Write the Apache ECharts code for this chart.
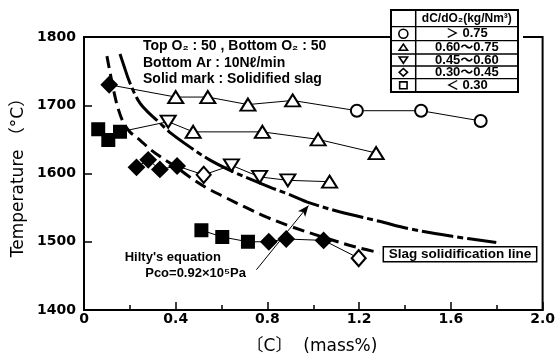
<!DOCTYPE html>
<html>
<head>
<meta charset="utf-8">
<script src="https://cdn.jsdelivr.net/npm/echarts@6/dist/echarts.min.js"></script>
<style>
  html, body { margin: 0; padding: 0; background: #fff; }
  #chart { width: 558px; height: 360px; }
</style>
</head>
<body>
<div id="chart"></div>
<script>
// Heats: carbon content [C] (mass%) vs. bath temperature (°C), in blowing order.
// Marks: ○ △ ▽ ◇ □ = dC/dO2 class, filled marks = solidified slag.
const heatA_C    = [0.11, 0.40, 0.54, 0.715, 0.91, 1.19, 1.47, 1.73];
const heatA_T    = [1730, 1712, 1712, 1701, 1707, 1692, 1692, 1677];
const heatA_mark = ['◆', '△', '△', '△', '△', '○', '○', '○'];

const heatB_C    = [0.062, 0.106, 0.157, 0.367, 0.476, 0.778, 1.021, 1.274];
const heatB_T    = [1665, 1649, 1661, 1676, 1661, 1661, 1650, 1630];
const heatB_mark = ['■', '■', '■', '▽', '△', '△', '△', '△'];

const heatC_C    = [0.229, 0.280, 0.331, 0.406, 0.522, 0.643, 0.766, 0.889, 1.071];
const heatC_T    = [1609, 1620, 1606, 1611, 1598, 1612, 1595, 1590, 1588];
const heatC_mark = ['◆', '◆', '◆', '◆', '◇', '▽', '▽', '▽', '△'];

const heatD_C    = [0.512, 0.603, 0.715, 0.806, 0.882, 1.045, 1.198];
const heatD_T    = [1517, 1507, 1500, 1500, 1504, 1502, 1476];
const heatD_mark = ['■', '■', '■', '◆', '◆', '◆', '◇'];

// Slag solidification line
const slagC = [0.100, 0.113, 0.131, 0.148, 0.170, 0.200, 0.244, 0.287, 0.340, 0.400,
               0.461, 0.535, 0.622, 0.701, 0.797, 0.897, 1.040, 1.188, 1.288];
const slagT = [1772, 1749, 1719, 1696, 1676, 1661, 1649, 1636, 1623, 1610,
               1595, 1579, 1564, 1551, 1536, 1523, 1507, 1492, 1484];

// Hilty's equation, Pco = 0.92×10^5 Pa
const hiltyC = [0.157, 0.174, 0.192, 0.218, 0.244, 0.279, 0.331, 0.383, 0.461, 0.548,
                0.635, 0.723, 0.810, 0.897, 0.984, 1.114, 1.288, 1.419, 1.606, 1.798];
const hiltyT = [1775, 1758, 1740, 1719, 1703, 1690, 1674, 1658, 1639, 1620,
                1605, 1592, 1580, 1569, 1557, 1544, 1530, 1519, 1508, 1499];

// Arrow from the equation label to the curve: [C], T
const arrowFrom = [0.752, 1459];
const arrowTo   = [0.979, 1553];

const xTickLabels = ['0', '0.4', '0.8', '1.2', '1.6', '2.0'];
const yTickLabels = ['1400', '1500', '1600', '1700', '1800'];
const legendRows  = [['○', '＞ 0.75'], ['△', '0.60～0.75'], ['▽', '0.45～0.60'], ['◇', '0.30～0.45'], ['□', '＜ 0.30']];

const MARKS = {
  '○': { symbol: 'circle',   size: 12,       fill: '#fff', rotate: 0 },
  '△': { symbol: 'triangle', size: [15, 12], fill: '#fff', rotate: 0 },
  '▽': { symbol: 'triangle', size: [15, 12], fill: '#fff', rotate: 180 },
  '◇': { symbol: 'diamond',  size: [14, 16], fill: '#fff', rotate: 0 },
  '◆': { symbol: 'diamond',  size: [15, 15], fill: '#000', rotate: 0 },
  '■': { symbol: 'rect',     size: 12,       fill: '#000', rotate: 0 }
};

function heatSeries(cs, ts, marks) {
  return {
    type: 'line',
    silent: true,
    z: 4,
    showSymbol: true,
    lineStyle: { color: '#000', width: 1 },
    data: cs.map((c, i) => {
      const m = MARKS[marks[i]];
      return {
        value: [c, ts[i]],
        symbol: m.symbol,
        symbolSize: m.size,
        symbolRotate: m.rotate,
        itemStyle: { color: m.fill, borderColor: '#000', borderWidth: 2 }
      };
    })
  };
}

const SANS = '"Liberation Sans", "DejaVu Sans", "Noto Sans CJK JP", sans-serif';
const BOLD14 = 'bold 14px ' + SANS;
const TITLE = '17px "DejaVu Sans", "Noto Sans CJK JP", sans-serif';

function label(text, x, y, font, align) {
  return {
    type: 'text', x: x, y: y, z: 10, silent: true,
    style: { text: text, font: font, fill: '#000',
             align: align || 'left', verticalAlign: 'middle',
             textAlign: align || 'left', textVerticalAlign: 'middle' }
  };
}

// Legend table: dC/dO2 classes
const tbl = { x: 391, y: 10, w: 127, h: 82, div: 415.7 };
const rowLines = [26.7, 40.7, 54, 66, 78.7];
const rowMid = [33.7, 47.3, 60, 72.3, 85.3];
const symX = (tbl.x + tbl.div) / 2;
const txtX = (tbl.div + tbl.x + tbl.w) / 2;

function legendSymbol(kind, cy) {
  const st = { fill: '#fff', stroke: '#000', lineWidth: 1.6 };
  const sx = symX;
  if (kind === '○') return { type: 'circle', shape: { cx: sx, cy: cy, r: 4.5 }, style: st, z: 12 };
  if (kind === '△') return { type: 'polygon', shape: { points: [[sx - 4.2, cy + 3], [sx + 4.2, cy + 3], [sx, cy - 3.2]] }, style: st, z: 12 };
  if (kind === '▽') return { type: 'polygon', shape: { points: [[sx - 4.2, cy - 3], [sx + 4.2, cy - 3], [sx, cy + 3.2]] }, style: st, z: 12 };
  if (kind === '◇') return { type: 'polygon', shape: { points: [[sx - 4.2, cy], [sx, cy - 3.8], [sx + 4.2, cy], [sx, cy + 3.8]] }, style: st, z: 12 };
  return { type: 'rect', shape: { x: sx - 3.7, y: cy - 3.4, width: 7.4, height: 6.8 }, style: st, z: 12 };
}

const tableEls = [
  { type: 'rect', z: 11, silent: true, shape: { x: tbl.x, y: tbl.y - 2, width: 132, height: tbl.h + 4 }, style: { fill: '#fff' } },
  { type: 'rect', z: 12, silent: true, shape: { x: tbl.x, y: tbl.y, width: tbl.w, height: tbl.h }, style: { fill: 'none', stroke: '#000', lineWidth: 2 } },
  { type: 'line', z: 12, silent: true, shape: { x1: tbl.div, y1: tbl.y, x2: tbl.div, y2: tbl.y + tbl.h }, style: { stroke: '#000', lineWidth: 1.5 } }
].concat(rowLines.map(y => ({
  type: 'line', z: 12, silent: true,
  shape: { x1: tbl.x, y1: y, x2: tbl.x + tbl.w, y2: y }, style: { stroke: '#000', lineWidth: 1.3 }
}))).concat([
  Object.assign(label('dC/dO₂(kg/Nm³)', txtX, 18.5, 'bold 12px ' + SANS, 'center'), { z: 13 })
]).concat(legendRows.map((r, i) => legendSymbol(r[0], rowMid[i]))).concat(
  legendRows.map((r, i) => Object.assign(label(r[1], txtX, rowMid[i], 'bold 13px ' + SANS, 'center'), { z: 13 }))
);

const annotations = [
  label('Top O₂ : 50 , Bottom O₂ : 50', 143, 46.5, BOLD14),
  label('Bottom Ar : 10Nℓ/min', 143, 63, BOLD14),
  label('Solid mark : Solidified slag', 143, 79.5, BOLD14),
  label("Hilty's equation", 221, 257, 'bold 13px ' + SANS, 'right'),
  label('Pco=0.92×10⁵Pa', 246, 273, 'bold 13px ' + SANS, 'right'),
  { type: 'rect', z: 10, silent: true, shape: { x: 383.3, y: 246.7, width: 153.4, height: 15 },
    style: { fill: '#fff', stroke: '#000', lineWidth: 1.5 } },
  Object.assign(label('Slag solidification line', 460, 254.5, 'bold 13.5px ' + SANS, 'center'), { z: 11 }),
  Object.assign(label('Temperature （°C）', 18.5, 173.5, TITLE, 'center'), { rotation: Math.PI / 2 }),
  label('〔C〕  (mass%)', 312, 346.5, TITLE, 'center')
];

const chart = echarts.init(document.getElementById('chart'), null, { renderer: 'canvas' });
chart.setOption({
  animation: false,
  backgroundColor: '#fff',
  grid: { left: 84, right: 15, top: 37, bottom: 50, show: true, borderColor: '#000', borderWidth: 2, backgroundColor: 'transparent' },
  xAxis: {
    type: 'value', min: 0, max: 2, interval: 0.4,
    axisLine: { show: true, lineStyle: { color: '#000', width: 2 } },
    axisTick: { show: true, inside: true, length: 8, lineStyle: { color: '#000', width: 1.5 } },
    minorTick: { show: true, splitNumber: 2, length: 5, lineStyle: { color: '#000', width: 1.5 } },
    splitLine: { show: false },
    axisLabel: {
      color: '#000', fontFamily: '"DejaVu Sans", sans-serif', fontWeight: 'bold', fontSize: 14, margin: 2,
      showMinLabel: true, showMaxLabel: true,
      formatter: v => xTickLabels[Math.round(v / 0.4)]
    }
  },
  yAxis: {
    type: 'value', min: 1400, max: 1800, interval: 100,
    axisLine: { show: true, lineStyle: { color: '#000', width: 2 } },
    axisTick: { show: true, inside: true, length: 8, lineStyle: { color: '#000', width: 1.5 } },
    splitLine: { show: false },
    axisLabel: { color: '#000', fontFamily: '"DejaVu Sans", sans-serif', fontWeight: 'bold', fontSize: 14, margin: 8,
                 showMinLabel: true, showMaxLabel: true,
                 formatter: v => yTickLabels[Math.round((v - 1400) / 100)] }
  },
  series: [
    {
      type: 'line', silent: true, z: 2, smooth: 0.35, showSymbol: false, symbol: 'none',
      lineStyle: { color: '#000', width: 3, type: [12, 6] },
      data: slagC.map((c, i) => [c, slagT[i]])
    },
    {
      type: 'line', silent: true, z: 2, smooth: 0.35, showSymbol: false, symbol: 'none',
      lineStyle: { color: '#000', width: 3, type: [32, 4, 6, 4] },
      data: hiltyC.map((c, i) => [c, hiltyT[i]]),
      markLine: {
        silent: true, animation: false,
        symbol: ['none', 'arrow'], symbolSize: [7, 11],
        lineStyle: { color: '#000', width: 1, type: 'solid' },
        label: { show: false },
        data: [[{ coord: arrowFrom }, { coord: arrowTo }]]
      }
    },
    heatSeries(heatA_C, heatA_T, heatA_mark),
    heatSeries(heatB_C, heatB_T, heatB_mark),
    heatSeries(heatC_C, heatC_T, heatC_mark),
    heatSeries(heatD_C, heatD_T, heatD_mark)
  ],
  graphic: annotations.concat(tableEls)
});
</script>
</body>
</html>
